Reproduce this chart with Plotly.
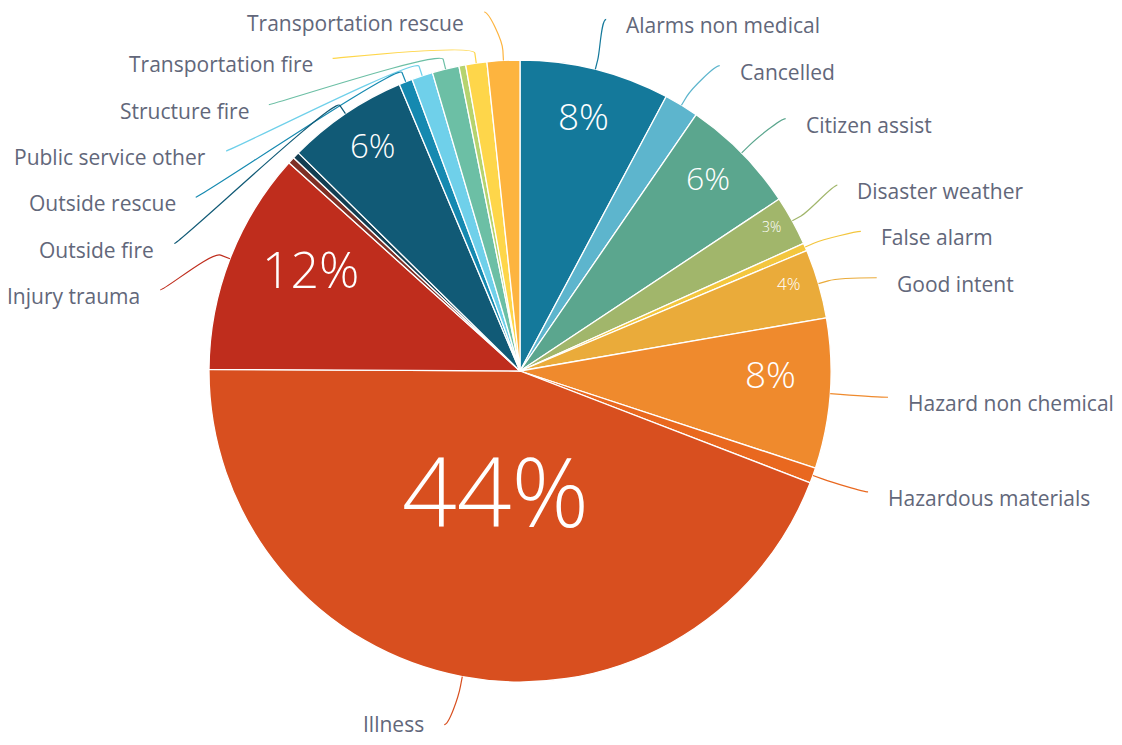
import math
import plotly.graph_objects as go

# ---------------- data ----------------
categories = [
    "Alarms non medical", "Cancelled", "Citizen assist", "Disaster weather",
    "False alarm", "Good intent", "Hazard non chemical", "Hazardous materials",
    "Illness", "Injury trauma", "Lift assist", "Mutual aid", "Outside fire",
    "Outside rescue", "Public service other", "Structure fire",
    "Technical rescue", "Transportation fire", "Transportation rescue",
]
values = [156, 36, 122, 52, 8, 72, 156, 16, 886, 232, 7, 7, 126, 14, 22, 28, 7, 22, 34]
# labels that the original chart shows outside the pie
show_label = [True] * 10 + [False, False] + [True] * 4 + [False] + [True] * 2

# ---------------- style ----------------
colors = [
    "#14799b", "#5db5cd", "#5ba68e", "#a1b66b", "#f3c63e", "#eaab3a",
    "#ef8a2d", "#e9681f", "#d84f1f", "#bf2d1d", "#7e3026", "#133e52",
    "#115a76", "#1589b0", "#6fd0ea", "#6cbfa5", "#b5d36f", "#fed64a",
    "#fdb43f",
]
pct_font = {"Illness": 96, "Injury trauma": 50, "Alarms non medical": 37,
            "Hazard non chemical": 37, "Outside fire": 33, "Citizen assist": 32,
            "Good intent": 17, "Disaster weather": 14}
pct_radius = {"Illness": 0.388, "Injury trauma": 0.749, "Alarms non medical": 0.848,
              "Hazard non chemical": 0.807, "Outside fire": 0.865,
              "Citizen assist": 0.868, "Good intent": 0.907, "Disaster weather": 0.932}
pct_angle_shift = {"Illness": 1.2, "Injury trauma": 4.8, "Alarms non medical": 0,
                   "Hazard non chemical": -3.5, "Outside fire": 1.0,
                   "Citizen assist": -1.3, "Good intent": -1.7, "Disaster weather": -0.9}
OFF = 8                       # page body margin
W, H = 1122 - 2 * OFF, 745 - 2 * OFF
CX, CY, R = 520, 371, 311     # in window pixels
LABEL_R = 360
GAP = 46.3
YMIN = 12
TEXT_MIN_Y = 23
TEXT_MAX_Y = 724
TEXT_COLOR = "#62677a"
FONT = "Open Sans"

def px(x):
    return (x - OFF) / W

def py(y):
    return 1 - (y - OFF) / H

total = sum(values)
pcts = [v / total * 100 for v in values]

mids = []
acc = 0.0
for v in values:
    a0 = acc / total * 360
    acc += v
    a1 = acc / total * 360
    mids.append((a0 + a1) / 2)

fig = go.Figure(go.Pie(
    labels=categories, values=values, sort=False, direction="clockwise",
    rotation=0, marker=dict(colors=colors, line=dict(color="white", width=1.3)),
    textinfo="none", hoverinfo="label+percent+value",
    domain=dict(x=[px(CX - R), px(CX + R)], y=[py(CY + R), py(CY - R)]),
    showlegend=False,
))

annotations = []
shapes = []

for name, p, m in zip(categories, pcts, mids):
    if p < 2.5:
        continue
    rad = math.radians(m + pct_angle_shift[name])
    r = R * pct_radius[name]
    x = CX + r * math.sin(rad)
    y = CY - r * math.cos(rad)
    annotations.append(dict(
        x=px(x), y=py(y), xref="paper", yref="paper", showarrow=False,
        text=f"{round(p)}%", xanchor="center", yanchor="middle",
        font=dict(family=FONT, size=pct_font[name], color="white", weight=300),
    ))

def distribute(items):
    items.sort(key=lambda d: d["ny"])
    groups = [[it] for it in items]
    def place(g):
        c = sum(i["ny"] for i in g) / len(g)
        start = max(c - (len(g) - 1) * GAP / 2, YMIN)
        for k, it in enumerate(g):
            it["y"] = start + k * GAP
    for g in groups:
        place(g)
    merged = True
    while merged:
        merged = False
        for i in range(len(groups) - 1):
            if groups[i + 1][0]["y"] < groups[i][-1]["y"] + GAP:
                groups[i] = groups[i] + groups[i + 1]
                del groups[i + 1]
                place(groups[i])
                merged = True
                break

sides = {"right": [], "left": []}
for i, (name, m) in enumerate(zip(categories, mids)):
    if not show_label[i]:
        continue
    rad = math.radians(m)
    item = dict(i=i, name=name, m=m, ny=CY - LABEL_R * math.cos(rad))
    sides["right" if m < 180 else "left"].append(item)

for side, items in sides.items():
    distribute(items)
    sgn = 1 if side == "right" else -1
    for it in items:
        y = it["y"]
        dy = max(-LABEL_R, min(LABEL_R, y - CY))
        xe = CX + sgn * (math.sqrt(LABEL_R ** 2 - dy ** 2) + 9)
        rad = math.radians(it["m"])
        ex, ey = CX + R * math.sin(rad), CY - R * math.cos(rad)
        bx, by = CX + (R + 10) * math.sin(rad), CY - (R + 10) * math.cos(rad)
        c1x = xe - sgn * 5
        c2x, c2y = 2 * bx - ex, 2 * by - ey
        path = (f"M {px(xe)},{py(y)} C {px(c1x)},{py(y)} {px(c2x)},{py(c2y)} "
                f"{px(bx)},{py(by)} L {px(ex)},{py(ey)}")
        shapes.append(dict(type="path", path=path, xref="paper", yref="paper",
                           line=dict(color=colors[it["i"]], width=1.2)))
        ty = min(max(y + 6, TEXT_MIN_Y), TEXT_MAX_Y)
        annotations.append(dict(
            x=px(xe + sgn * 18), y=py(ty), xref="paper", yref="paper",
            showarrow=False, text=it["name"],
            xanchor="left" if side == "right" else "right", yanchor="middle",
            font=dict(family=FONT, size=21, color=TEXT_COLOR),
        ))

fig.update_layout(
    width=W, height=H, margin=dict(l=0, r=0, t=0, b=0, pad=0),
    paper_bgcolor="white", plot_bgcolor="white",
    annotations=annotations, shapes=shapes, showlegend=False,
)

fig.write_html("out.html")
